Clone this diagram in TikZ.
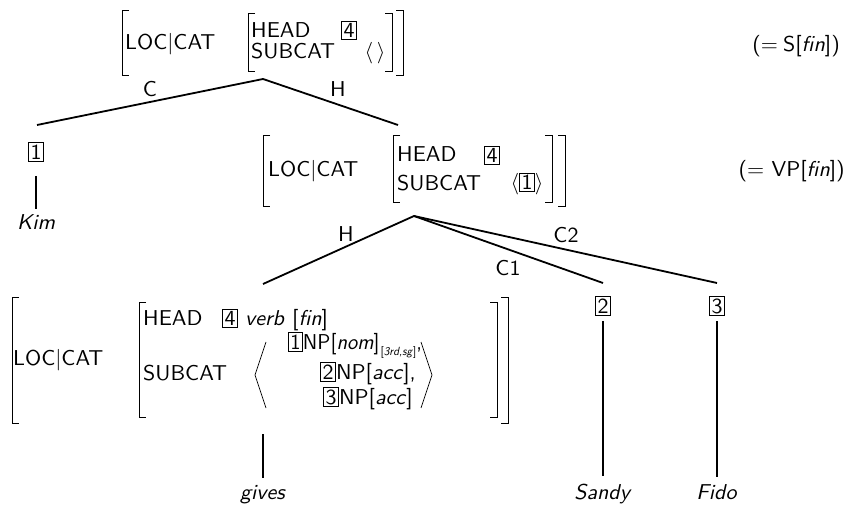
\documentclass[tikz,border=0pt]{standalone}
\usepackage{graphicx}
\setlength{\fboxsep}{0.75pt}
\setlength{\fboxrule}{0.35pt}
\newcommand{\sx}[1]{\scalebox{2.2}[2.15]{#1}}
\newcommand{\sxn}[1]{\scalebox{2.05}[2.15]{#1}}
\newcommand{\tagbox}[1]{\fbox{#1}}
\newcommand{\mylbr}[3]{\draw[brk] (#1+7,#2) -- (#1,#2) -- (#1,#3) -- (#1+7,#3);}
\newcommand{\myrbr}[3]{\draw[brk] (#1-7,#2) -- (#1,#2) -- (#1,#3) -- (#1-7,#3);}
\begin{document}
\begin{tikzpicture}[x=1pt,y=-1pt,
  txt/.style={inner sep=0pt, font=\sffamily},
  brk/.style={line width=0.7pt},
  edge/.style={line width=1.8pt},
]
\useasboundingbox (0,0) rectangle (849,505);

% ---------- top AVM ----------
\mylbr{122}{10}{75}
\node[txt, anchor=base west] (tloc) at (125,50) {\sx{LOC|CAT}};
\mylbr{248}{13}{71}
\node[txt, anchor=base west] (thead) at (251,38) {\sx{HEAD}};
\node[txt, anchor=base west] (tsub) at (251,59) {\sx{SUBCAT}};
\node[txt] (tfour) at (349,30) {\sx{\tagbox{4}}};
\node[txt] (tang) at (375,53) {\sx{$\langle\,\rangle$}};
\myrbr{392}{13}{71}
\myrbr{403}{10}{75}
\node[txt, anchor=base east] (sfin) at (840,52) {\sx{(=\kern-1pt{} S[\textit{fin}])}};

\coordinate (tapex) at (263,79);
\coordinate (tl) at (37,125);
\coordinate (tr) at (398,125);
\draw[edge] (tl) -- (tapex) -- (tr);
\node[txt] (lC) at (150,89) {\sx{C}};
\node[txt] (lH) at (338,89) {\sx{H}};

% ---------- Kim ----------
\node[txt] (one) at (36,152) {\sx{\tagbox{1}}};
\node[txt, anchor=base] (kim) at (36,230) {\sx{\textit{Kim}}};
\draw[edge, shorten <=14pt, shorten >=6pt] (one.south) -- (kim.north);

% ---------- middle AVM ----------
\mylbr{263}{135}{206}
\node[txt, anchor=base west] (mloc) at (268,177) {\sx{LOC|CAT}};
\mylbr{393}{135}{202}
\node[txt, anchor=base west] (mhead) at (397,162) {\sx{HEAD}};
\node[txt, anchor=base west] (msub) at (397,191) {\sx{SUBCAT}};
\node[txt] (mfour) at (492,155) {\sx{\tagbox{4}}};
\node[txt] (mone) at (527,184) {\sx{$\langle$\tagbox{1}$\rangle$}};
\myrbr{552}{135}{202}
\myrbr{565}{135}{206}
\node[txt, anchor=base east] (vpfin) at (845,177) {\sx{(= VP[\textit{fin}])}};

\coordinate (mapex) at (414,216);
\coordinate (mh) at (263,284);
\coordinate (m2) at (603,283);
\coordinate (m3) at (717,283);
\draw[edge] (mh) -- (mapex) -- (m2);
\draw[edge] (mapex) -- (m3);
\node[txt] (lH2) at (346,234) {\sx{H}};
\node[txt] (lC1) at (508,268) {\sx{C1}};
\node[txt] (lC2) at (566,235) {\sx{C2}};

% ---------- bottom AVM ----------
\mylbr{12}{297}{423}
\node[txt, anchor=base west] (bloc) at (13,365) {\sx{LOC|CAT}};
\mylbr{139}{302}{417}
\node[txt, anchor=base west] (bhead) at (143,325) {\sx{HEAD}};
\node[txt] (bfour) at (230,318) {\sx{\tagbox{4}}};
\node[txt, anchor=base west] (bverb) at (245,325) {\sx{\textit{verb} [\textit{fin}]}};
\node[txt, anchor=base west] (bsub) at (143,380) {\sx{SUBCAT}};
\draw[brk] (266,342) -- (255,375) -- (266,408);
\draw[brk] (421,342) -- (432,375) -- (421,408);
\node[txt, anchor=base west] (r1) at (288,349) {\sxn{\tagbox{1}NP[\textit{nom}]\kern0.5pt\raisebox{-0.7ex}{\scalebox{0.55}{[\textit{3rd,sg}]}},}};
\node[txt, anchor=base west] (r2) at (320,379) {\sx{\tagbox{2}NP[\textit{acc}],}};
\node[txt, anchor=base west] (r3) at (323,404) {\sx{\tagbox{3}NP[\textit{acc}]}};
\myrbr{497}{302}{417}
\myrbr{508}{297}{423}

% ---------- leaves ----------
\coordinate (gtop) at (263,434);
\node[txt, anchor=base] (gives) at (263,499) {\sx{\textit{gives}}};
\draw[edge, shorten >=7pt] (gtop) -- (gives.north);

\node[txt] (two) at (603,306) {\sx{\tagbox{2}}};
\node[txt, anchor=base] (sandy) at (603,499) {\sx{\textit{Sandy}}};
\draw[edge, shorten <=5pt, shorten >=7pt] (two.south) -- (sandy.north);

\node[txt] (three) at (717,306) {\sx{\tagbox{3}}};
\node[txt, anchor=base] (fido) at (717,499) {\sx{\textit{Fido}}};
\draw[edge, shorten <=5pt, shorten >=7pt] (three.south) -- (fido.north);
\end{tikzpicture}
\end{document}
